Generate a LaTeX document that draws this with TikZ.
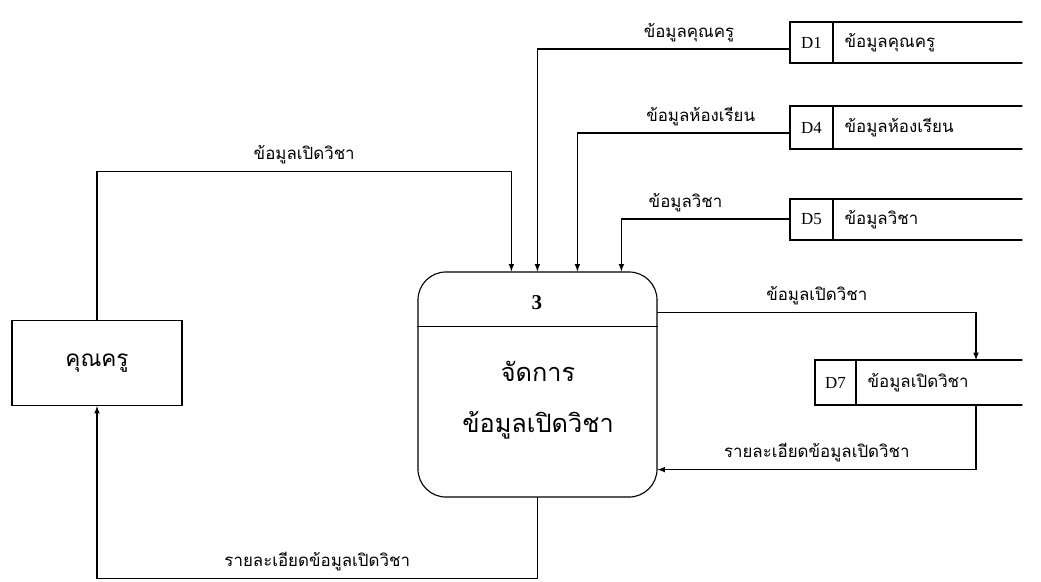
\documentclass[tikz,border=0pt]{standalone}
\usepackage{fontspec}
\setmainfont{Liberation Serif}
\newfontfamily\thaifont[Script=Thai]{Loma}
\usepackage{tikz}
\usetikzlibrary{arrows.meta, calc}
\newcommand{\DataStore}[8]{
	% #1 name, #2 left, #3 top, #4 bottom, #5 divider, #6 id, #7 label, #8 flow y
	\draw[store] (1022,#3) -- (#2,#3) -- (#2,#4) -- (1022,#4);
	\draw[store] (#5,#3) -- (#5,#4);
	\node[storeid] (#1-id) at ({(#2+#5)/2},{(#3+#4)/2}) {#6};
	\node[storename, anchor=west] (#1) at ({#5+10},{(#3+#4)/2}) {#7};
	\coordinate (#1-w) at (#2,#8);
	\coordinate (#1-nw) at (#2,#3);
	\coordinate (#1-sw) at (#2,#4);
}

\begin{document}
\begin{tikzpicture}[x=0.025cm, y=-0.025cm, line cap=round,
	flow/.style={line width=0.8pt, -latex},
	store/.style={line width=0.8pt},
	flowlabel/.style={font=\thaifont\fontsize{12}{14}\selectfont, inner sep=2pt, above=3pt},
	storeid/.style={font=\fontsize{12}{14}\selectfont, inner sep=1pt},
	storename/.style={font=\thaifont\fontsize{12}{14}\selectfont, inner sep=1pt},
	extbox/.style={draw, line width=0.8pt, minimum width=4.25cm, minimum height=2.125cm, font=\thaifont\fontsize{16}{20}\selectfont},
	procbox/.style={draw, line width=0.8pt, rounded corners=0.7cm, minimum width=5.975cm, minimum height=5.625cm}]

	\useasboundingbox (0,0) rectangle (1041,581);

	% external entity and process
	\node[extbox] (teacher) at (97,363) {คุณครู};
	\node[procbox] (proc) at (537.5,384.5) {};
	\draw[store] ($(proc.north west)+(0,55)$) -- ($(proc.north east)+(0,55)$);
	\node[font=\bfseries\fontsize{15}{17}\selectfont] (procid) at (537,303) {3};
	\node[font=\thaifont\fontsize{18}{36}\selectfont, align=center] (procname) at (538,400) {จัดการ\\ข้อมูลเปิดวิชา};

	% data stores
	\DataStore{d1}{790}{22}{63}{833}{D1}{ข้อมูลคุณครู}{49}
	\DataStore{d4}{790}{106}{149}{833}{D4}{ข้อมูลห้องเรียน}{133}
	\DataStore{d5}{790}{199}{240}{833}{D5}{ข้อมูลวิชา}{219}
	\DataStore{d7}{815}{360}{405}{856}{D7}{ข้อมูลเปิดวิชา}{383}

	\draw[flow] (teacher.north) |- node[flowlabel, pos=0.75] {ข้อมูลเปิดวิชา} ($(proc.north west)+(94,-100)$) -- ($(proc.north west)+(94,0)$);
	\draw[flow] (d1-w) -| node[flowlabel, pos=0.2] {ข้อมูลคุณครู} ($(proc.north west)+(120,0)$);
	\draw[flow] (d4-w) -| node[flowlabel, pos=0.21] {ข้อมูลห้องเรียน} ($(proc.north west)+(160,0)$);
	\draw[flow] (d5-w) -| node[flowlabel, pos=0.31] {ข้อมูลวิชา} ($(proc.north west)+(204,0)$);

	\draw[flow] ($(proc.north east)+(0,41)$) -| node[flowlabel, pos=0.25] {ข้อมูลเปิดวิชา} ($(d7-nw)+(161,0)$);
	\draw[flow] ($(d7-sw)+(161,0)$) |- node[flowlabel, pos=0.75] {รายละเอียดข้อมูลเปิดวิชา} ($(proc.south east)+(0,-28)$);
	\draw[flow] (proc.south) -- ++(0,81) -| node[flowlabel, pos=0.25] {รายละเอียดข้อมูลเปิดวิชา} (teacher.south);

\end{tikzpicture}
\end{document}
